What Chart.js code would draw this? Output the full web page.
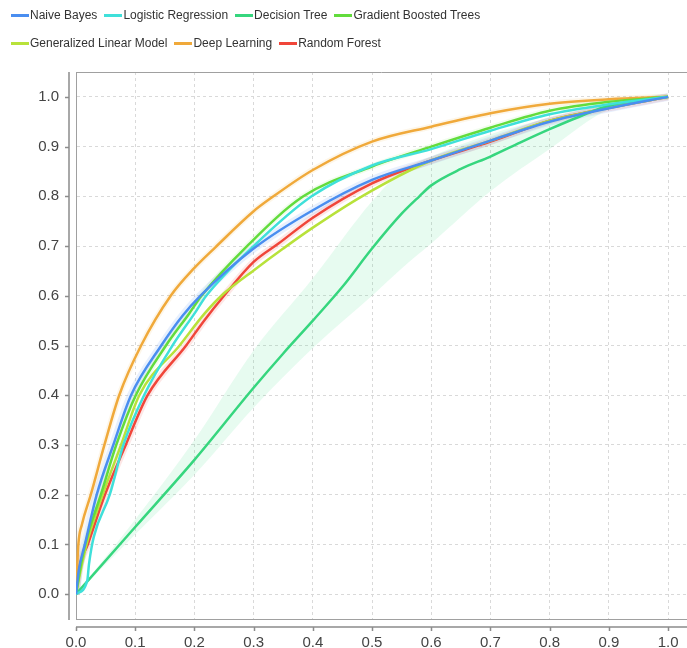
<!DOCTYPE html>
<html>
<head>
<meta charset="utf-8">
<script src="https://cdn.jsdelivr.net/npm/chart.js@4.4.1/dist/chart.umd.min.js"></script>
<style>
  html, body { margin: 0; padding: 0; background: #fff; overflow: hidden; }
  #wrap { position: relative; width: 687px; height: 648px; }
  #legend {
    position: absolute; left: 11px; top: 1px; width: 478px;
    display: flex; flex-wrap: wrap; column-gap: 7px;
    font: 12px "Liberation Sans", Arial, sans-serif; color: #333;
  }
  #legend .item { display: flex; align-items: center; height: 28px; white-space: nowrap; }
  #legend .swatch { width: 18px; height: 3px; margin-right: 1px; }
</style>
</head>
<body>
<div id="wrap">
  <canvas id="roc" width="687" height="648"></canvas>
  <div id="legend"></div>
</div>
<script>
// model names, in legend order
const names = ['Naive Bayes', 'Logistic Regression', 'Decision Tree', 'Gradient Boosted Trees',
               'Generalized Linear Model', 'Deep Learning', 'Random Forest'];
const colors = ['#4a8ef0', '#3fe0da', '#36d67e', '#62dc3c', '#b8e23a', '#f0a93a', '#f0463a'];

// ROC curves (false positive rate / true positive rate)
const nbFpr = [0, 0.005, 0.015, 0.035, 0.063, 0.093, 0.144, 0.18, 0.21, 0.3, 0.4, 0.5, 0.6, 0.7, 0.8, 0.9, 1];
const nbTpr = [0, 0.05, 0.1, 0.2, 0.3, 0.4, 0.5, 0.56, 0.6, 0.695, 0.772, 0.833, 0.872, 0.912, 0.95, 0.977, 1];

const lrFpr = [0, 0.019, 0.022, 0.03, 0.057, 0.08, 0.115, 0.163, 0.2, 0.22, 0.3, 0.398, 0.5, 0.6, 0.7, 0.8, 0.9, 1];
const lrTpr = [0, 0.027, 0.061, 0.115, 0.2, 0.3, 0.4, 0.5, 0.564, 0.6, 0.7, 0.8, 0.862, 0.895, 0.932, 0.965, 0.985, 1];

const dtFpr = [0, 0.1, 0.2, 0.3, 0.35, 0.4, 0.45, 0.5, 0.55, 0.58, 0.6, 0.65, 0.7, 0.75, 0.8, 0.85, 0.9, 1];
const dtTpr = [0, 0.135, 0.27, 0.415, 0.484, 0.55, 0.618, 0.695, 0.765, 0.8, 0.822, 0.855, 0.88, 0.908, 0.935, 0.96, 0.982, 1];

const gbtFpr = [0, 0.01, 0.02, 0.042, 0.068, 0.101, 0.152, 0.191, 0.212, 0.289, 0.384, 0.5, 0.6, 0.7, 0.8, 0.9, 1];
const gbtTpr = [0, 0.07, 0.12, 0.2, 0.3, 0.4, 0.5, 0.564, 0.6, 0.7, 0.8, 0.86, 0.9, 0.938, 0.972, 0.99, 1];

const glmFpr = [0, 0.01, 0.02, 0.045, 0.076, 0.107, 0.175, 0.217, 0.25, 0.3, 0.35, 0.4, 0.483, 0.6, 0.7, 0.8, 0.9, 1];
const glmTpr = [0, 0.06, 0.11, 0.2, 0.3, 0.4, 0.5, 0.564, 0.605, 0.651, 0.695, 0.737, 0.8, 0.872, 0.912, 0.952, 0.978, 1];

const dlFpr = [0, 0.004, 0.01, 0.025, 0.048, 0.073, 0.11, 0.16, 0.2, 0.235, 0.3, 0.33, 0.4, 0.5, 0.6, 0.7, 0.8, 0.9, 1];
const dlTpr = [0, 0.1, 0.14, 0.2, 0.3, 0.4, 0.5, 0.6, 0.656, 0.697, 0.77, 0.797, 0.853, 0.91, 0.94, 0.967, 0.986, 0.995, 1];

const rfFpr = [0, 0.005, 0.02, 0.049, 0.084, 0.121, 0.186, 0.217, 0.25, 0.3, 0.342, 0.4, 0.5, 0.6, 0.7, 0.8, 0.9, 1];
const rfTpr = [0, 0.05, 0.1, 0.2, 0.3, 0.4, 0.5, 0.551, 0.6, 0.668, 0.705, 0.757, 0.826, 0.872, 0.91, 0.952, 0.978, 1];

// decision tree spread (light green band)
const dtBandFpr   = [0, 0.1, 0.2, 0.3, 0.4, 0.5, 0.55, 0.6, 0.7, 0.8, 0.9, 1];
const dtBandUpper = [0, 0.15, 0.31, 0.49, 0.635, 0.79, 0.85, 0.88, 0.925, 0.958, 0.985, 1];
const dtBandLower = [0, 0.12, 0.24, 0.375, 0.495, 0.6, 0.655, 0.705, 0.81, 0.895, 0.975, 1];

const xTicks = [0, 0.1, 0.2, 0.3, 0.4, 0.5, 0.6, 0.7, 0.8, 0.9, 1];
const yTicks = [0, 0.1, 0.2, 0.3, 0.4, 0.5, 0.6, 0.7, 0.8, 0.9, 1];

const curves = [
  [nbFpr, nbTpr], [lrFpr, lrTpr], [dtFpr, dtTpr], [gbtFpr, gbtTpr],
  [glmFpr, glmTpr], [dlFpr, dlTpr], [rfFpr, rfTpr]
];

let points = function(xs, ys){
  return xs.map(function(x, i){ return {x: x, y: ys[i]}; });
};

let rgba = function(hex, a){
  let n = parseInt(hex.slice(1), 16);
  return 'rgba(' + (n >> 16) + ',' + ((n >> 8) & 255) + ',' + (n & 255) + ',' + a + ')';
};

const lineBase = {
  showLine: true,
  pointRadius: 0,
  cubicInterpolationMode: 'monotone',
  borderJoinStyle: 'round',
  fill: false
};

let datasets = curves.map(function(c, i){
  return Object.assign({}, lineBase, {
    label: names[i],
    data: points(c[0], c[1]),
    borderColor: colors[i],
    backgroundColor: colors[i],
    borderWidth: 2.5
  });
});

// soft halo under a few curves, like the faint spread in the original
[[0, 8, 0.13], [6, 7, 0.13], [5, 6, 0.11], [3, 6, 0.09]].forEach(function(g){
  let c = curves[g[0]];
  datasets.push(Object.assign({}, lineBase, {
    label: '', data: points(c[0], c[1]),
    borderColor: rgba(colors[g[0]], g[2]), borderWidth: g[1]
  }));
});

datasets.push(Object.assign({}, lineBase, {
  label: '', data: points(dtBandFpr, dtBandUpper),
  borderWidth: 0, borderColor: 'rgba(0,0,0,0)', backgroundColor: 'rgba(70,225,140,0.13)',
  fill: '+1'
}));
datasets.push(Object.assign({}, lineBase, {
  label: '', data: points(dtBandFpr, dtBandLower),
  borderWidth: 0, borderColor: 'rgba(0,0,0,0)'
}));

// offset axis lines with tick marks, and the top edge of the plot frame
const axisDecor = {
  id: 'axisDecor',
  afterDraw: function(chart){
    const ctx = chart.ctx, a = chart.chartArea, x = chart.scales.x, y = chart.scales.y;
    ctx.save();
    ctx.strokeStyle = '#a0a0a0';
    ctx.lineWidth = 1;
    ctx.beginPath();
    ctx.moveTo(a.left, a.top + 0.5);
    ctx.lineTo(a.right, a.top + 0.5);
    ctx.stroke();

    ctx.strokeStyle = '#8c8c8c';
    ctx.lineWidth = 1.5;
    ctx.beginPath();
    let ax = a.left - 7;
    ctx.moveTo(ax, a.top);
    ctx.lineTo(ax, a.bottom + 1);
    yTicks.forEach(function(v){
      let py = Math.round(y.getPixelForValue(v)) + 0.5;
      ctx.moveTo(ax - 4, py);
      ctx.lineTo(ax, py);
    });
    let ay = a.bottom + 8;
    ctx.moveTo(a.left, ay);
    ctx.lineTo(a.right, ay);
    xTicks.forEach(function(v){
      let px = Math.round(x.getPixelForValue(v)) + 0.5;
      ctx.moveTo(px, ay);
      ctx.lineTo(px, ay + 4);
    });
    ctx.stroke();
    ctx.restore();
  }
};

let keepTicks = function(list){
  return function(scale){
    scale.ticks = list.map(function(v){ return {value: v}; });
  };
};

const tickFont = { family: '"Liberation Sans", Arial, sans-serif', size: 15 };

const chart = new Chart(document.getElementById('roc').getContext('2d'), {
  type: 'scatter',
  data: { datasets: datasets },
  plugins: [axisDecor],
  options: {
    responsive: false,
    animation: false,
    events: [],
    layout: { autoPadding: false, padding: { top: 72, left: 0, right: 0, bottom: 0 } },
    plugins: {
      legend: { display: false },
      tooltip: { enabled: false },
      filler: { propagate: false }
    },
    scales: {
      x: {
        type: 'linear', min: 0, max: 1.032,
        afterFit: function(s){ s.height = 29; s.paddingLeft = 0; s.paddingRight = 0; },
        afterBuildTicks: keepTicks(xTicks),
        ticks: {
          padding: 15, color: '#444', font: tickFont, maxRotation: 0, autoSkip: false,
          callback: function(v){ return Number(v).toFixed(1); }
        },
        grid: { color: '#d9d9d9', drawTicks: false },
        border: { display: true, color: '#a0a0a0', dash: [3, 3] }
      },
      y: {
        type: 'linear', min: -0.05, max: 1.05,
        afterFit: function(s){ s.width = 76; s.paddingTop = 0; s.paddingBottom = 0; },
        afterBuildTicks: keepTicks(yTicks),
        ticks: {
          padding: 17, color: '#444', font: tickFont, autoSkip: false,
          callback: function(v){ return Number(v).toFixed(1); }
        },
        grid: { color: '#d9d9d9', drawTicks: false },
        border: { display: true, color: '#a0a0a0', dash: [3, 3] }
      }
    }
  }
});

// legend built from the chart's own legend items
let legendHtml = '';
Chart.defaults.plugins.legend.labels.generateLabels(chart).forEach(function(item){
  if (item.datasetIndex >= names.length) return;
  legendHtml += '<div class="item"><span class="swatch" style="background:' + item.strokeStyle + '"></span>' +
    '<span>' + item.text + '</span></div>';
});
document.getElementById('legend').innerHTML = legendHtml;
</script>
</body>
</html>
